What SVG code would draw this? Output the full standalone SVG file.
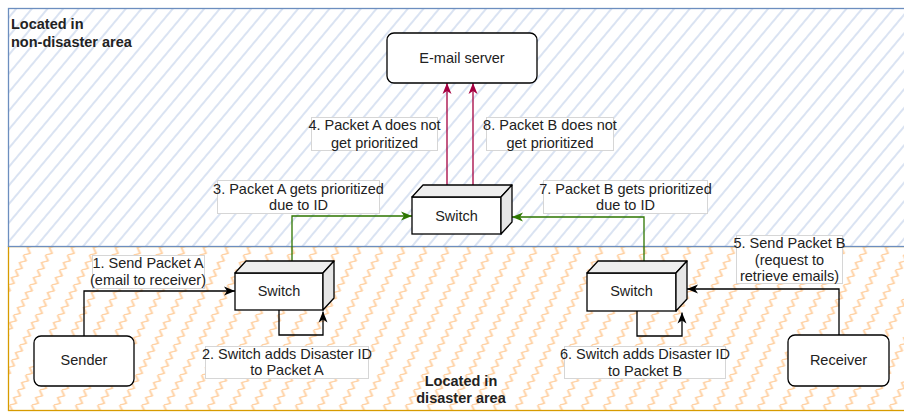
<svg xmlns="http://www.w3.org/2000/svg" width="904" height="412" viewBox="0 0 904 412">
  <style>
    text { font-family: "Liberation Sans", Arial, Helvetica, sans-serif; font-size: 14.5px; fill: #222; }
    .c { text-anchor: middle; }
    .b { font-weight: bold; }
    .node { fill: #ffffff; stroke: #000000; stroke-width: 1.3; }
    .top { fill: #eeeeee; stroke: #000000; stroke-width: 1.3; stroke-linejoin: round; }
    .side { fill: #e6e6e6; stroke: #000000; stroke-width: 1.3; stroke-linejoin: round; }
    .lbl { fill: #ffffff; stroke: #d6d6d6; stroke-width: 1; }
    .edge { fill: none; stroke-width: 1.3; }
    .k { stroke: #000000; }
    .g { stroke: #2d7600; }
    .r { stroke: #a50040; }
  </style>
  <defs>
    <!-- diagonal hatch for the upper zone -->
    <pattern id="hatch" patternUnits="userSpaceOnUse" width="12" height="12" patternTransform="rotate(40)">
      <line x1="6" y1="-1" x2="6" y2="13" stroke="#cad7ed" stroke-width="1.4"/>
    </pattern>
    <!-- zigzag fill for the lower zone -->
    <pattern id="zigzag" patternUnits="userSpaceOnUse" width="22" height="15" patternTransform="skewX(-28)">
      <polyline points="5,15 11,13.5 5,7.5 11,6 5,0" fill="none" stroke="#ffcf9f" stroke-width="1.5" stroke-linejoin="round"/>
    </pattern>
    <marker id="ak" viewBox="0 0 11 10" refX="11" refY="5" markerWidth="11" markerHeight="10" markerUnits="userSpaceOnUse" orient="auto">
      <path d="M0,0.5 L11,5 L0,9.5 L3,5 Z" fill="#000000"/>
    </marker>
    <marker id="ag" viewBox="0 0 11 10" refX="11" refY="5" markerWidth="11" markerHeight="10" markerUnits="userSpaceOnUse" orient="auto">
      <path d="M0,0.5 L11,5 L0,9.5 L3,5 Z" fill="#2d7600"/>
    </marker>
    <marker id="ar" viewBox="0 0 11 10" refX="11" refY="5" markerWidth="11" markerHeight="10" markerUnits="userSpaceOnUse" orient="auto">
      <path d="M0,0.5 L11,5 L0,9.5 L3,5 Z" fill="#a50040"/>
    </marker>
  </defs>

  <rect width="904" height="412" fill="#ffffff"/>

  <!-- zones -->
  <g id="zone-disaster">
    <rect x="8.5" y="246.5" width="910" height="164" fill="#ffffff" stroke="none"/>
    <rect x="8.5" y="246.5" width="910" height="164" fill="url(#zigzag)" stroke="#d79b00" stroke-width="1.3"/>
    <text class="c b" x="461" y="386">Located in</text>
    <text class="c b" x="461" y="403">disaster area</text>
  </g>
  <g id="zone-non-disaster">
    <rect x="8.5" y="8.5" width="910" height="238" fill="#ffffff" stroke="none"/>
    <rect x="8.5" y="8.5" width="910" height="238" fill="url(#hatch)" stroke="#6c8ebf" stroke-width="1.3"/>
    <text class="b" x="11" y="29">Located in</text>
    <text class="b" x="11" y="47">non-disaster area</text>
  </g>

  <!-- connectors -->
  <g id="connectors">
    <path class="edge k" d="M84,336 V291 H235" marker-end="url(#ak)"/>
    <path class="edge k" d="M279,310 V335 H323 V311.5" marker-end="url(#ak)"/>
    <path class="edge k" d="M839,335 V289 H687" marker-end="url(#ak)"/>
    <path class="edge k" d="M637,311 V336 H682 V312.5" marker-end="url(#ak)"/>
    <path class="edge g" d="M292,261 V216 H412" marker-end="url(#ag)"/>
    <path class="edge g" d="M644,261 V217 H512" marker-end="url(#ag)"/>
    <path class="edge r" d="M447,185 V83" marker-end="url(#ar)"/>
    <path class="edge r" d="M473,185 V83" marker-end="url(#ar)"/>

    <g id="label-1">
      <rect class="lbl" x="92.5" y="255.5" width="112" height="33"/>
      <text class="c" x="148" y="268">1. Send Packet A</text>
      <text class="c" x="148" y="285">(email to receiver)</text>
    </g>
    <g id="label-2">
      <rect class="lbl" x="205.5" y="346.5" width="163" height="32"/>
      <text class="c" x="287" y="358.5">2. Switch adds Disaster ID</text>
      <text class="c" x="287" y="375">to Packet A</text>
    </g>
    <g id="label-3">
      <rect class="lbl" x="217.5" y="180.5" width="162" height="33"/>
      <text class="c" x="298.5" y="193.5">3. Packet A gets prioritized</text>
      <text class="c" x="298.5" y="210">due to ID</text>
    </g>
    <g id="label-4">
      <rect class="lbl" x="311.5" y="117.5" width="126" height="33"/>
      <text class="c" x="374.5" y="130">4. Packet A does not</text>
      <text class="c" x="374.5" y="147.5">get prioritized</text>
    </g>
    <g id="label-5">
      <rect class="lbl" x="736.5" y="235.5" width="106" height="48"/>
      <text class="c" x="789.5" y="248">5. Send Packet B</text>
      <text class="c" x="789.5" y="264.5">(request to</text>
      <text class="c" x="789.5" y="281">retrieve emails)</text>
    </g>
    <g id="label-6">
      <rect class="lbl" x="564.5" y="346.5" width="161" height="32"/>
      <text class="c" x="645" y="358.5">6. Switch adds Disaster ID</text>
      <text class="c" x="645" y="376">to Packet B</text>
    </g>
    <g id="label-7">
      <rect class="lbl" x="543.5" y="180.5" width="164" height="33"/>
      <text class="c" x="625.5" y="193.5">7. Packet B gets prioritized</text>
      <text class="c" x="625.5" y="210">due to ID</text>
    </g>
    <g id="label-8">
      <rect class="lbl" x="486.5" y="117.5" width="127" height="33"/>
      <text class="c" x="550" y="130">8. Packet B does not</text>
      <text class="c" x="550" y="147.5">get prioritized</text>
    </g>
  </g>

  <!-- nodes -->
  <g id="email-server">
    <rect class="node" x="387" y="33" width="150" height="50" rx="7"/>
    <text class="c" x="462" y="63">E-mail server</text>
  </g>

  <g id="switch-core">
    <rect class="node" x="412" y="197" width="89" height="37"/>
    <polygon class="top" points="412,197 423,185 512,185 501,197"/>
    <polygon class="side" points="501,197 512,185 512,222 501,234"/>
    <text class="c" x="456.5" y="220.5">Switch</text>
  </g>

  <g id="switch-sender">
    <rect class="node" x="235" y="273" width="88" height="37"/>
    <polygon class="top" points="235,273 246,261 334,261 323,273"/>
    <polygon class="side" points="323,273 334,261 334,298 323,310"/>
    <text class="c" x="279" y="296">Switch</text>
  </g>

  <g id="switch-receiver">
    <rect class="node" x="587" y="273" width="89" height="38"/>
    <polygon class="top" points="587,273 598,261 687,261 676,273"/>
    <polygon class="side" points="676,273 687,261 687,299 676,311"/>
    <text class="c" x="631.5" y="296">Switch</text>
  </g>

  <g id="sender">
    <rect class="node" x="34" y="336" width="100" height="50" rx="7"/>
    <text class="c" x="84" y="365">Sender</text>
  </g>

  <g id="receiver">
    <rect class="node" x="788" y="335" width="101" height="51" rx="7"/>
    <text class="c" x="838.5" y="365">Receiver</text>
  </g>
</svg>
